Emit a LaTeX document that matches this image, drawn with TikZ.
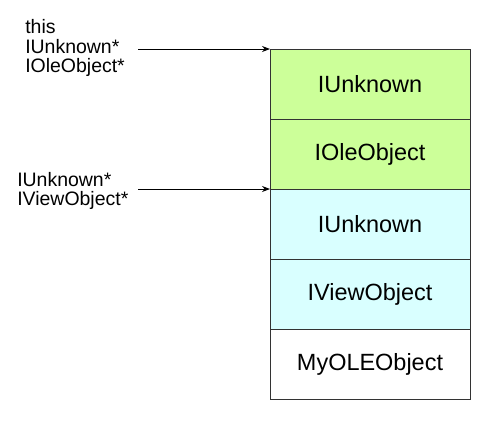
\documentclass[tikz,border=0pt]{standalone}
\usepackage{fontspec}
\setmainfont{Liberation Sans}
\usepackage{tikz}
\usetikzlibrary{arrows.meta,positioning}
\usepackage{xcolor}
\definecolor{olegreen}{HTML}{CCFF99}
\definecolor{viewcyan}{HTML}{D9FFFF}

\tikzset{
  slot/.style={draw=black!80, line width=0.75pt, minimum width=150pt, minimum height=52.5pt,
    outer sep=0pt, inner sep=0pt, font=\fontsize{17.6}{20}\selectfont},
  ptr/.style={-{Stealth[length=6pt,width=4.5pt]}, line width=0.6pt},
  ptrlabel/.style={anchor=west, align=left, inner sep=0pt, font=\fontsize{14.6}{14.8}\selectfont}
}

\begin{document}
\begin{tikzpicture}[x=0.75pt,y=-0.75pt]
  \useasboundingbox (0,0) rectangle (500,426);
  % object layout, top to bottom
  \node[slot, fill=olegreen, anchor=north west] (unk1) at (270,49) {IUnknown};
  \node[slot, fill=olegreen, below=0pt of unk1] (ole) {IOleObject};
  \node[slot, fill=viewcyan, below=0pt of ole] (unk2) {IUnknown};
  \node[slot, fill=viewcyan, below=0pt of unk2] (view) {IViewObject};
  \node[slot, fill=white, below=0pt of view] (obj) {MyOLEObject};
  % pointers
  \node[ptrlabel] (lbl1) at (25,48) {this\\IUnknown*\\IOleObject*};
  \node[ptrlabel] (lbl2) at (17,191) {IUnknown*\\IViewObject*};
  \coordinate (tail1) at (138,49);
  \coordinate (tail2) at (138,189);
  \draw[ptr] (tail1) -- (unk1.north west);
  \draw[ptr] (tail2) -- (unk2.north west);
\end{tikzpicture}
\end{document}
